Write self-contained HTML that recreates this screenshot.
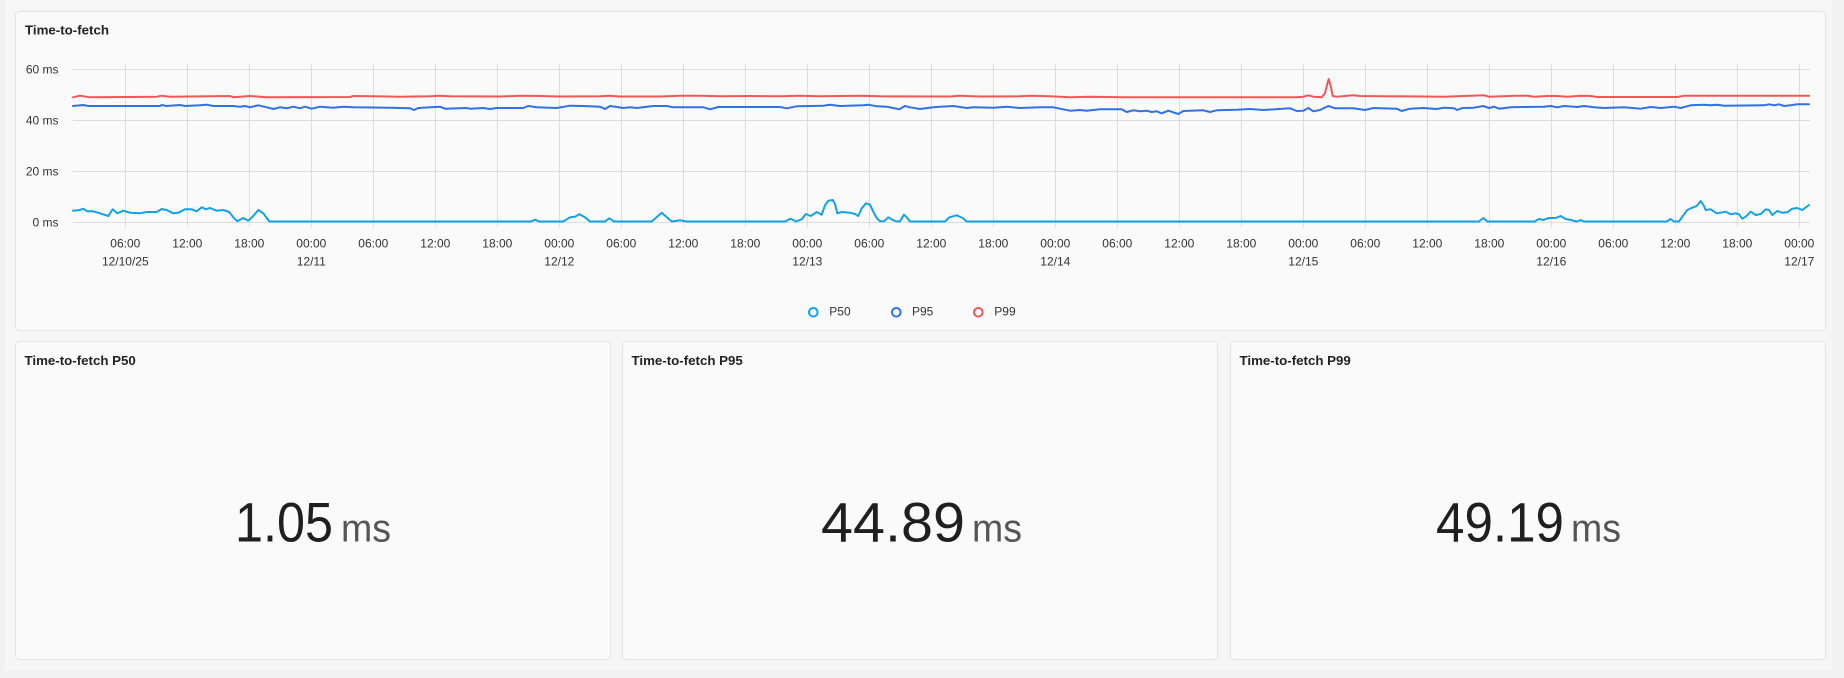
<!DOCTYPE html>
<html>
<head>
<meta charset="utf-8">
<style>
  html,body{margin:0;padding:0;background:#f1f1f1;}
  body{width:1844px;height:678px;overflow:hidden;position:relative;font-family:"Liberation Sans",sans-serif;}
  svg{position:absolute;left:0;top:0;}
</style>
</head>
<body>
<svg width="1844" height="678" viewBox="0 0 1844 678" xmlns="http://www.w3.org/2000/svg" font-family="Liberation Sans, sans-serif">
  <!-- outer wrapper -->
  <rect x="5" y="0" width="1827" height="671" fill="#f6f6f6"/>
  <!-- top panel -->
  <rect x="15.5" y="11.5" width="1810" height="319" rx="4" fill="#fafafa" stroke="#e4e4e4" stroke-width="1"/>
  <!-- bottom panels -->
  <rect x="15.5" y="341.5" width="595" height="318" rx="4" fill="#fafafa" stroke="#e4e4e4" stroke-width="1"/>
  <rect x="622.5" y="341.5" width="595" height="318" rx="4" fill="#fafafa" stroke="#e4e4e4" stroke-width="1"/>
  <rect x="1230.5" y="341.5" width="595" height="318" rx="4" fill="#fafafa" stroke="#e4e4e4" stroke-width="1"/>

  <!-- titles -->
  <text x="25" y="34.5" font-size="13.3" font-weight="bold" fill="#222">Time-to-fetch</text>
  <text x="24.5" y="365" font-size="13.3" font-weight="bold" fill="#222">Time-to-fetch P50</text>
  <text x="631.5" y="365" font-size="13.3" font-weight="bold" fill="#222">Time-to-fetch P95</text>
  <text x="1239.5" y="365" font-size="13.3" font-weight="bold" fill="#222">Time-to-fetch P99</text>

  <!-- horizontal grid -->
  <g stroke="#dcdcdc" stroke-width="1">
    <line x1="73" y1="69.5" x2="1810" y2="69.5"/>
    <line x1="73" y1="120.5" x2="1810" y2="120.5"/>
    <line x1="73" y1="171.5" x2="1810" y2="171.5"/>
    <line x1="73" y1="222.5" x2="1810" y2="222.5"/>
  </g>
  <!-- vertical grid -->
  <g stroke="#dcdcdc" stroke-width="1">
    <line x1="125.5" y1="64" x2="125.5" y2="227"/>
    <line x1="187.5" y1="64" x2="187.5" y2="227"/>
    <line x1="249.5" y1="64" x2="249.5" y2="227"/>
    <line x1="311.5" y1="64" x2="311.5" y2="227"/>
    <line x1="373.5" y1="64" x2="373.5" y2="227"/>
    <line x1="435.5" y1="64" x2="435.5" y2="227"/>
    <line x1="497.5" y1="64" x2="497.5" y2="227"/>
    <line x1="559.5" y1="64" x2="559.5" y2="227"/>
    <line x1="621.5" y1="64" x2="621.5" y2="227"/>
    <line x1="683.5" y1="64" x2="683.5" y2="227"/>
    <line x1="745.5" y1="64" x2="745.5" y2="227"/>
    <line x1="807.5" y1="64" x2="807.5" y2="227"/>
    <line x1="869.5" y1="64" x2="869.5" y2="227"/>
    <line x1="931.5" y1="64" x2="931.5" y2="227"/>
    <line x1="993.5" y1="64" x2="993.5" y2="227"/>
    <line x1="1055.5" y1="64" x2="1055.5" y2="227"/>
    <line x1="1117.5" y1="64" x2="1117.5" y2="227"/>
    <line x1="1179.5" y1="64" x2="1179.5" y2="227"/>
    <line x1="1241.5" y1="64" x2="1241.5" y2="227"/>
    <line x1="1303.5" y1="64" x2="1303.5" y2="227"/>
    <line x1="1365.5" y1="64" x2="1365.5" y2="227"/>
    <line x1="1427.5" y1="64" x2="1427.5" y2="227"/>
    <line x1="1489.5" y1="64" x2="1489.5" y2="227"/>
    <line x1="1551.5" y1="64" x2="1551.5" y2="227"/>
    <line x1="1613.5" y1="64" x2="1613.5" y2="227"/>
    <line x1="1675.5" y1="64" x2="1675.5" y2="227"/>
    <line x1="1737.5" y1="64" x2="1737.5" y2="227"/>
    <line x1="1799.5" y1="64" x2="1799.5" y2="227"/>
  </g>

  <!-- y labels -->
  <g font-size="12" fill="#333" text-anchor="end">
    <text x="58.5" y="73.5">60 ms</text>
    <text x="58.5" y="124.5">40 ms</text>
    <text x="58.5" y="175.5">20 ms</text>
    <text x="58.5" y="226.5">0 ms</text>
  </g>

  <!-- x labels -->
  <g font-size="12" fill="#333" text-anchor="middle">
    <text x="125.3" y="247.3">06:00</text><text x="125.3" y="265.7">12/10/25</text>
    <text x="187.3" y="247.3">12:00</text>
    <text x="249.3" y="247.3">18:00</text>
    <text x="311.3" y="247.3">00:00</text><text x="311.3" y="265.7">12/11</text>
    <text x="373.3" y="247.3">06:00</text>
    <text x="435.3" y="247.3">12:00</text>
    <text x="497.3" y="247.3">18:00</text>
    <text x="559.3" y="247.3">00:00</text><text x="559.3" y="265.7">12/12</text>
    <text x="621.3" y="247.3">06:00</text>
    <text x="683.3" y="247.3">12:00</text>
    <text x="745.3" y="247.3">18:00</text>
    <text x="807.3" y="247.3">00:00</text><text x="807.3" y="265.7">12/13</text>
    <text x="869.3" y="247.3">06:00</text>
    <text x="931.3" y="247.3">12:00</text>
    <text x="993.3" y="247.3">18:00</text>
    <text x="1055.3" y="247.3">00:00</text><text x="1055.3" y="265.7">12/14</text>
    <text x="1117.3" y="247.3">06:00</text>
    <text x="1179.3" y="247.3">12:00</text>
    <text x="1241.3" y="247.3">18:00</text>
    <text x="1303.3" y="247.3">00:00</text><text x="1303.3" y="265.7">12/15</text>
    <text x="1365.3" y="247.3">06:00</text>
    <text x="1427.3" y="247.3">12:00</text>
    <text x="1489.3" y="247.3">18:00</text>
    <text x="1551.3" y="247.3">00:00</text><text x="1551.3" y="265.7">12/16</text>
    <text x="1613.3" y="247.3">06:00</text>
    <text x="1675.3" y="247.3">12:00</text>
    <text x="1737.3" y="247.3">18:00</text>
    <text x="1799.3" y="247.3">00:00</text><text x="1799.3" y="265.7">12/17</text>
  </g>

  <!-- series -->
  <g fill="none" stroke-width="2" stroke-linejoin="round" stroke-linecap="round">
    <polyline stroke="#f25757" points="73,97.3 80,95.7 90,97.3 156.7,96.7 161.7,95.7 170,96.7 230,96 233.3,97.3 250,96 266.7,97.3 350,97 353.3,96 400,96.7 430,96.3 440,95.8 450,96.3 500,96.5 520,95.8 540,96 560,96.5 600,96.3 610,95.8 620,96.5 660,96.5 680,95.8 700,95.8 720,96.3 750,96 780,96.2 800,95.7 820,96.3 860,95.7 880,96.3 950,96.5 960,95.8 980,96.5 1020,96.3 1030,95.8 1050,96.3 1070,97.3 1090,96.7 1123.3,97.3 1206.7,97.3 1290,97.3 1296.7,97.3 1303.3,96.7 1308.3,95.3 1313.3,96.7 1321.7,97.3 1325,93.3 1327.3,84 1328.7,79 1330.7,86 1332.7,96 1336.7,96.7 1353.3,95.3 1360,96 1444,96.7 1484,95.3 1489,96.7 1515.7,95.7 1527.3,95.7 1534,96.7 1547.3,96 1557,96 1567,96.7 1580.7,95.7 1590.7,96 1597.3,97 1677.3,97 1684,95.7 1809,95.7"/>
    <polyline stroke="#3171e4" points="73,106 83.3,105 88.3,106 160,106 161.7,105 166.7,106 180,105 185,106 200,105.3 206.7,104.7 213.3,106 233.3,106 240,106.7 245,106 250,107.3 258.3,105.3 266.7,107.3 273.3,109 280,107.3 286.7,108.3 293.3,106.7 300,108.3 305,106.7 311.7,108.7 320,106.7 333.3,107.7 343.3,106.7 353.3,107.3 390,107.7 410,108.3 414,110 418.3,108 440,106.7 445,108.7 466.7,108 470,108.7 483.3,108 490,109 496.7,108 523.3,108 528.3,106 536.7,107.3 556.7,108 570,105.7 583.3,106 600,106.7 605,109 610,106 623.3,108 630,107.3 636.7,108 653.3,106 666.7,106 673.3,107.3 703.3,107.3 710,109.3 718.3,107 780,107 786.7,108.3 796.7,106.3 823.3,105.7 830,104.7 840,106 863.3,105.3 868.3,104.7 876.7,106.3 886.7,106.7 893.3,108 899.3,109.3 905,106 910,107.3 920,109 933.3,107.3 940,106.7 953.3,106 966.7,108 973.3,107.3 993.3,107.7 1006.7,106.7 1020,108 1040,107.3 1053.3,107.3 1060,108.7 1070,110.7 1080,110 1086.7,110.7 1100,109.3 1121.7,109.3 1126.7,112 1133.3,110.3 1140,111.3 1146.7,110.7 1151.7,112 1156.7,111.3 1161.7,113.3 1168.3,110.7 1178.3,114 1183.3,111 1203.3,110.3 1210,112 1216.7,110.3 1236.7,109.7 1250,109 1263.3,110 1290,108.3 1296.7,111 1303.3,110.7 1308.3,108 1313.3,111.3 1320,110 1328.3,106 1335,108.3 1353.3,108.3 1365,110 1373.3,108 1396.7,108.7 1401.7,111 1410,108.7 1423.3,108 1436.7,109 1444,107.7 1454,108.3 1457.3,110 1462.3,108 1474,107.7 1483.3,106 1489,108 1494,106.7 1499,108.7 1510.7,107.3 1544,106.7 1550.7,106 1557.3,107.3 1564,106 1577.3,107 1584,106 1594,107.3 1604,108 1624,107.3 1640.7,108.7 1650.7,107 1660.7,108 1674,106.7 1680.7,108 1690.7,105.3 1704,104.7 1710.7,105.3 1717.3,104.7 1724,105.7 1764,105.3 1769,104.3 1774,105.3 1779,104.3 1784,106 1790.7,105.3 1797.3,104.3 1809,104.3"/>
    <polyline stroke="#14a3e2" points="73,210.7 80,210 83.3,208.7 87.3,211.3 93.3,211.3 100,213.3 108.3,216 112.7,209.3 117.3,213.3 123.3,210.7 130,212.7 140,213.3 146.7,212 156.7,212 161.7,209 166.7,210 173.3,213.3 178.3,212.7 185,209.3 191.7,209.3 196.7,211.3 201.7,207.3 206,209.3 210,208 216.7,210.7 223.3,210 229.3,212 233.3,217.3 237.3,221.3 243.3,218 248.3,220.7 253.3,216 258.3,210 263.3,213.3 269.3,221.5 531,221.5 535,219.7 539,221.5 563.3,221.5 570,217.3 575,216.7 579.3,214.3 585,217.3 590,221.5 605,221.5 609.3,218.3 614,221.5 651.7,221.5 661.7,212.7 671.7,221.5 680,220.3 686.7,221.5 785,221.5 790.7,218.7 796,221.5 801.7,219.3 806,214 810.7,216 816.7,212 821.7,214.7 825,205.3 828.3,200.7 832.7,200 835,204 837.3,213.3 841.7,212 850,212.7 855,214 858.3,216 861.7,208.3 866,203.3 870,204.7 873.3,211.7 876.7,218 880,221.3 884,221.3 888.3,217.3 892.7,220 896.7,221.5 900,221.3 904,214.7 906.7,217.3 910,221.5 945,221.5 949.3,217.3 956.7,215.3 962.7,218 966.7,221.5 1479,221.5 1483.3,218 1487.3,221.5 1534.7,221.5 1539,219 1543.3,220 1549,218 1555.7,218 1560.7,216 1565.7,219 1570.7,220 1576.7,221.5 1580.7,220 1584,221.5 1666.7,221.5 1670.7,219 1674,221.5 1679,221.5 1682.3,216.7 1687.3,210 1692.3,207.7 1696.7,206 1700.7,201 1704,206 1705.7,210 1710.7,209.3 1716.7,213.3 1725.7,211.7 1730.7,214.3 1735.7,213.3 1739,214.3 1742.3,218.7 1745.7,216.7 1750.7,211.7 1755.7,215 1760.7,214 1765.7,209.3 1769,210 1772.3,215 1777.3,211 1782.3,212.7 1787.3,212.3 1792.3,208.7 1797.3,208 1802.3,210 1809,205"/>
  </g>

  <!-- legend -->
  <g fill="none" stroke-width="2">
    <circle cx="813.3" cy="312.3" r="4.3" stroke="#14a3e2"/>
    <circle cx="896.3" cy="312.3" r="4.3" stroke="#3171e4"/>
    <circle cx="978.3" cy="312.3" r="4.3" stroke="#f25757"/>
  </g>
  <g font-size="12" fill="#333">
    <text x="829.3" y="315.5">P50</text>
    <text x="912" y="315.5">P95</text>
    <text x="994.3" y="315.5">P99</text>
  </g>

  <!-- stat values -->
  <g fill="#1f1f1f" font-size="56">
    <text x="235" y="541.7" textLength="98" lengthAdjust="spacingAndGlyphs">1.05</text>
    <text x="821" y="541.7" textLength="144" lengthAdjust="spacingAndGlyphs">44.89</text>
    <text x="1436" y="541.7" textLength="128" lengthAdjust="spacingAndGlyphs">49.19</text>
  </g>
  <g fill="#555" font-size="39">
    <text x="341" y="541.7" textLength="50" lengthAdjust="spacingAndGlyphs">ms</text>
    <text x="972" y="541.7" textLength="50" lengthAdjust="spacingAndGlyphs">ms</text>
    <text x="1571" y="541.7" textLength="50" lengthAdjust="spacingAndGlyphs">ms</text>
  </g>
</svg>
</body>
</html>
